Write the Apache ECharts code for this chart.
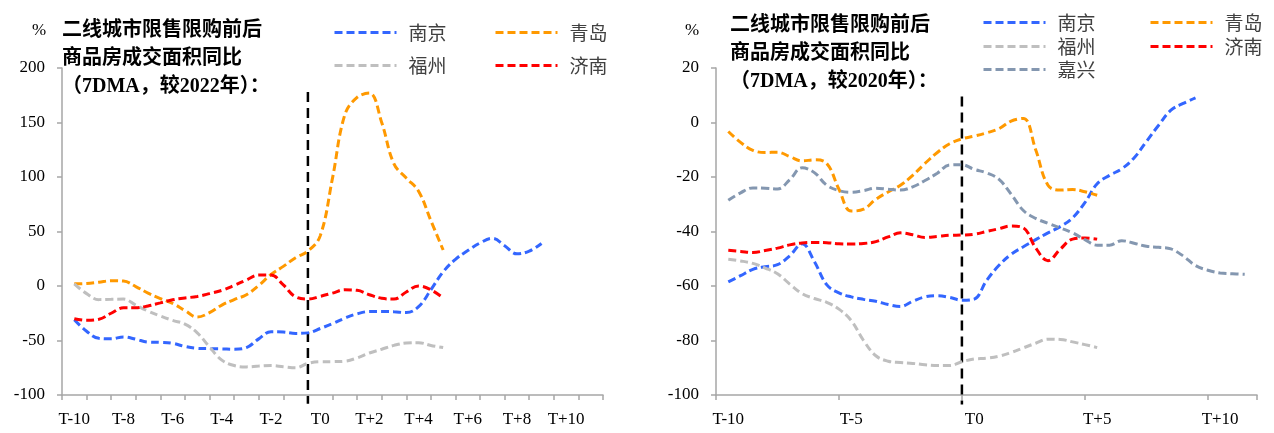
<!DOCTYPE html>
<html>
<head>
<meta charset="utf-8">
<script src="https://cdn.jsdelivr.net/npm/echarts@6/dist/echarts.min.js"></script>
<style>
  html, body { margin: 0; padding: 0; background: #fff; }
  #chart { width: 1274px; height: 433px; }
</style>
</head>
<body>
<div id="chart"></div>
<script>
// Periods relative to the policy date (T0), in half-period steps
const periods = [-10, -9.5, -9, -8.5, -8, -7.5, -7, -6.5, -6, -5.5, -5, -4.5, -4, -3.5, -3, -2.5, -2, -1.5, -1, -0.5,
  0, 0.5, 1, 1.5, 2, 2.5, 3, 3.5, 4, 4.5, 5, 5.5, 6, 6.5, 7, 7.5, 8, 8.5, 9, 9.5, 10, 10.5, 11];

// Category labels along the bottom axis
const periodLabels = ['T-10', 'T-9', 'T-8', 'T-7', 'T-6', 'T-5', 'T-4', 'T-3', 'T-2', 'T-1', 'T0',
  'T+1', 'T+2', 'T+3', 'T+4', 'T+5', 'T+6', 'T+7', 'T+8', 'T+9', 'T+10', 'T+11'];

// Policy start sits on the boundary between T-1 and T0
const policyStart = -0.5;

// Left panel: YoY vs 2022 (%)
const leftNanjing = [-31, -41.5, -48, -48.5, -46.7, -48.8, -51.4, -51.7, -52.6, -55.5, -57.2, -57.5, -57.7, -58, -56.5,
  -48.5, -42, -42.3, -43.5, -43, -39, -34.5, -29.5, -25.5, -23.4, -23.3, -23.7, -24.4, -19, -3.5, 13, 24.5, 32.5,
  39.5, 43.7, 37, 29.5, 32, 39];
const leftQingdao = [2, 2.3, 3.5, 4.8, 4.5, -0.5, -6.5, -11.5, -16, -22.5, -28.5, -24.5, -17.5, -12.5, -8, 0.5, 10.5,
  18, 26, 32, 46, 99, 157, 173, 177, 150, 112, 99, 87, 60, 33];
const leftFuzhou = [2, -7, -12.5, -12.2, -12, -17.5, -23, -27.5, -31.5, -35, -43, -56, -68, -73, -74.2, -73.5, -73,
  -74, -75, -71, -69.5, -69.4, -69, -66, -61.5, -58, -54.5, -52.3, -52, -54.5, -56.5];
const leftJinan = [-30, -31.5, -30.5, -25, -20, -20, -18.3, -15.5, -12.7, -11, -9.6, -7, -4, 0.5, 5.5, 10, 10, 1, -10,
  -12, -9.5, -6.5, -3.5, -4, -8, -11.3, -12, -5.5, 0, -3.5, -11];

// Right panel: YoY vs 2020 (%)
const rightNanjing = [-58.5, -56.2, -53.9, -52.9, -52.2, -48.9, -44.5, -51, -59.5, -62.5, -64, -64.9, -65.6, -66.8,
  -67.5, -65.6, -64, -63.6, -64.2, -65.2, -64.8, -58, -52.5, -48.4, -45.6, -43, -40.5, -38.2, -35, -29.4, -22.5,
  -19.4, -17, -13, -7, -1, 4.5, 7, 9];
const rightQingdao = [-3.3, -7.3, -10.2, -11, -10.9, -12.5, -14.1, -13.7, -15, -24.5, -32.5, -31.8, -28.2, -25.5, -23,
  -19.4, -15, -11, -7.8, -6, -5, -3.8, -2.3, 0.5, 1.5, -10, -23, -24.8, -24.6, -25.4, -26.7];
const rightFuzhou = [-50.2, -50.8, -51.7, -53.4, -55.5, -59.3, -62.8, -64.6, -66, -68.5, -72.7, -80, -85.6, -87.6,
  -88.1, -88.4, -88.9, -89.2, -89.2, -87.8, -86.8, -86.5, -85.8, -84.4, -82.7, -81, -79.5, -79.6, -80.5, -81.5, -82.6];
const rightJinan = [-46.9, -47.3, -47.7, -47, -46.1, -44.9, -44.2, -44, -44.1, -44.5, -44.6, -44.4, -43.7, -42, -40.5,
  -41.2, -42.2, -41.8, -41.4, -41.3, -41, -40, -39, -38, -38.7, -46, -50.7, -46.5, -42.8, -42.4, -42.8];
const rightJiaxing = [-28.5, -25.8, -24, -24.1, -24.4, -21, -16.6, -18.4, -23, -25, -25.6, -25, -24.1, -24.5, -24.8,
  -23.6, -21.3, -18.6, -15.6, -15.5, -17.2, -18.5, -20.8, -26.3, -32.3, -35.2, -37, -38.7, -40.5, -43, -45, -45,
  -43.4, -44.3, -45.4, -45.8, -46.4, -49, -52.5, -54.2, -55.2, -55.5, -55.7];

const COLORS = { '南京': '#3366FF', '青岛': '#FF9900', '福州': '#BFBFBF', '济南': '#FF0000', '嘉兴': '#8497B0' };

const SERIF = "'Liberation Serif', 'Times New Roman', serif";
const TITLE_FONT = "'Liberation Serif', 'Noto Sans CJK SC', serif";
const CJK = "'Noto Sans CJK SC', sans-serif";
const AXIS_GREY = '#A6A6A6';

const panels = [
  {
    grid: { left: 62, top: 68, width: 541, height: 327 },
    y: { min: -100, max: 200, interval: 50 },
    xAtZero: true, tickEvery: 0, labelEvery: 1,
    title: '二线城市限售限购前后\n商品房成交面积同比\n（7DMA，较2022年）：',
    titlePos: { left: 62, top: 17 }, pctPos: { left: 32, top: 22 },
    policyLine: [178, -108],
    series: [
      { name: '南京', data: leftNanjing, legend: [333, 33] },
      { name: '青岛', data: leftQingdao, legend: [494, 33] },
      { name: '福州', data: leftFuzhou, legend: [333, 66] },
      { name: '济南', data: leftJinan, legend: [494, 66] }
    ]
  },
  {
    grid: { left: 716, top: 68, width: 541, height: 327 },
    y: { min: -100, max: 20, interval: 20 },
    xAtZero: false, tickEvery: 4, labelEvery: 4,
    title: '二线城市限售限购前后\n商品房成交面积同比\n（7DMA，较2020年）：',
    titlePos: { left: 730, top: 12 }, pctPos: { left: 685, top: 22 },
    policyLine: [9.5, -103.5],
    series: [
      { name: '南京', data: rightNanjing, legend: [982, 23] },
      { name: '青岛', data: rightQingdao, legend: [1149, 23] },
      { name: '福州', data: rightFuzhou, legend: [982, 47] },
      { name: '济南', data: rightJinan, legend: [1149, 47] },
      { name: '嘉兴', data: rightJiaxing, legend: [982, 70] }
    ]
  }
];

const option = {
  backgroundColor: '#fff',
  animation: false,
  grid: [], xAxis: [], yAxis: [], series: [], legend: [], title: []
};

panels.forEach((p, pi) => {
  const base = pi * 3;
  option.grid.push(Object.assign({ containLabel: false }, p.grid));

  // data axis (hidden): positions in periods, centred on categories
  option.xAxis.push({
    type: 'value', gridIndex: pi, min: -10.5, max: 11.5, show: false
  });
  // axis line with tick marks
  option.xAxis.push({
    type: 'category', gridIndex: pi, position: 'bottom', data: periodLabels, boundaryGap: true,
    axisLine: { show: true, onZero: p.xAtZero, lineStyle: { color: AXIS_GREY, width: 1.5 } },
    axisTick: { show: true, interval: p.tickEvery, length: 5, lineStyle: { color: AXIS_GREY, width: 1.5 } },
    axisLabel: { show: false }, splitLine: { show: false }
  });
  // period labels along the bottom
  option.xAxis.push({
    type: 'category', gridIndex: pi, position: 'bottom', data: periodLabels, boundaryGap: true,
    axisLine: { show: false, onZero: false }, axisTick: { show: false },
    axisLabel: { interval: p.labelEvery, margin: 16, fontFamily: SERIF, fontSize: 17, color: '#000' },
    splitLine: { show: false }
  });

  option.yAxis.push({
    type: 'value', gridIndex: pi, min: p.y.min, max: p.y.max, interval: p.y.interval,
    axisLine: { show: true, onZero: false, lineStyle: { color: AXIS_GREY, width: 1.5 } },
    axisTick: { show: true, length: 5, lineStyle: { color: AXIS_GREY, width: 1.5 } },
    axisLabel: { margin: 17, fontFamily: SERIF, fontSize: 17, color: '#000' },
    splitLine: { show: false }
  });

  // dashed marker at the policy start
  option.series.push({
    type: 'line', xAxisIndex: base, yAxisIndex: pi, silent: true, clip: false, symbol: 'none', z: 2,
    data: [[policyStart, p.policyLine[0]], [policyStart, p.policyLine[1]]],
    lineStyle: { color: '#000', width: 2.5, type: [10, 6] }
  });

  p.series.forEach(s => {
    option.series.push({
      type: 'line', name: s.name, xAxisIndex: base, yAxisIndex: pi,
      data: s.data.map((v, i) => [periods[i], v]),
      smooth: 0.4, symbol: 'none', z: 3,
      itemStyle: { color: COLORS[s.name] },
      lineStyle: { color: COLORS[s.name], width: 3, type: [8, 4] }
    });
    option.legend.push({
      left: s.legend[0], top: s.legend[1] - 10, padding: 0,
      data: [s.name], itemWidth: 62, itemHeight: 20,
      itemStyle: { opacity: 0 },
      lineStyle: { width: 3, type: [8, 4] },
      textStyle: { fontFamily: CJK, fontSize: 19, color: '#404040', padding: [0, 0, 0, 7] }
    });
  });

  option.title.push({
    text: p.title, left: p.titlePos.left, top: p.titlePos.top, padding: 0,
    textStyle: { fontFamily: TITLE_FONT, fontSize: 20, fontWeight: 'bold', lineHeight: 28, color: '#000' }
  });
  option.title.push({
    text: '%', left: p.pctPos.left, top: p.pctPos.top, padding: 0,
    textStyle: { fontFamily: SERIF, fontSize: 17, fontWeight: 'normal', color: '#000' }
  });
});

const chart = echarts.init(document.getElementById('chart'), null, { renderer: 'canvas' });
chart.setOption(option);
</script>
</body>
</html>
